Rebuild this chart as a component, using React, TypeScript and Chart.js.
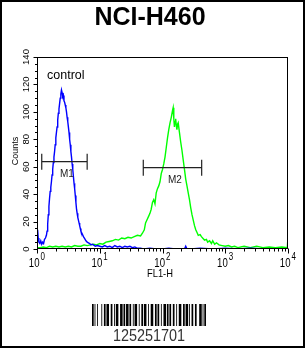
import { useEffect, useRef } from 'react';
import { Chart, registerables } from 'chart.js';

Chart.register(...registerables);

const chartTitle = 'NCI-H460';
const xTitle = 'FL1-H';
const yTitle = 'Counts';
const controlLabel = 'control';

const yTickValues = [0, 20, 40, 60, 80, 100, 120, 140];
const yTickLabels = ['0', '20', '40', '60', '80', '100', '120', '140'];
const xDecadeValues = [1, 10, 100, 1000, 10000];
const xExponentLabels = ['0', '1', '2', '3', '4'];

// [log10(FL1-H), count]
const controlHistogram: [number, number][] = [
  [0, 13], [0.01, 14], [0.02, 8], [0.03, 5], [0.045, 4], [0.06, 6], [0.075, 3.5], [0.09, 5],
  [0.105, 4], [0.12, 7], [0.135, 8], [0.15, 10], [0.16, 13], [0.17, 18], [0.18, 25], [0.19, 31],
  [0.2, 37], [0.21, 42], [0.22, 45], [0.23, 49], [0.24, 54], [0.25, 58], [0.26, 63], [0.27, 67],
  [0.28, 71], [0.29, 76], [0.3, 81], [0.31, 85], [0.32, 89], [0.33, 94], [0.34, 99], [0.35, 102],
  [0.36, 106], [0.37, 110], [0.38, 113], [0.39, 116], [0.4, 114], [0.41, 111], [0.42, 112],
  [0.43, 108], [0.44, 107], [0.45, 105], [0.46, 103], [0.47, 100], [0.48, 96], [0.49, 93],
  [0.5, 89], [0.51, 85], [0.52, 80], [0.53, 76], [0.54, 71], [0.55, 67], [0.56, 62], [0.57, 58],
  [0.58, 53], [0.59, 48], [0.6, 44], [0.61, 39], [0.62, 34], [0.63, 29], [0.64, 26], [0.65, 23],
  [0.66, 21], [0.67, 19], [0.68, 17], [0.69, 15], [0.7, 13], [0.72, 11], [0.74, 9], [0.76, 7.5],
  [0.78, 6], [0.8, 5], [0.82, 4.5], [0.84, 4], [0.86, 3], [0.88, 3.5], [0.9, 3], [0.93, 2],
  [0.96, 2.5], [1.0, 2], [1.04, 1.5], [1.08, 2.5], [1.12, 1.5], [1.16, 2], [1.2, 1], [1.24, 2.5],
  [1.28, 1.5], [1.32, 2], [1.36, 1], [1.4, 2], [1.44, 1.5], [1.48, 2], [1.52, 1], [1.56, 1.5],
  [1.6, 0.5], [1.65, 0.5], [1.7, 0], [1.8, 0.5], [1.9, 0], [2.0, 0], [2.1, 0.5], [2.2, 0],
  [2.3, 0], [2.35, 0], [2.37, 2], [2.39, 0], [2.45, 0], [2.6, 0.5], [2.8, 0], [3.0, 0.5],
  [3.2, 0], [3.4, 0.5], [3.6, 0], [3.8, 0], [4.0, 0],
];

const sampleHistogram: [number, number][] = [
  [0, 1], [0.05, 1], [0.1, 1.5], [0.15, 1], [0.2, 2], [0.25, 1.5], [0.3, 2], [0.35, 1.5],
  [0.4, 2], [0.45, 1.5], [0.5, 2], [0.55, 1.5], [0.6, 2.5], [0.65, 2], [0.7, 2], [0.75, 3],
  [0.8, 2.5], [0.85, 3], [0.9, 3.5], [0.95, 3], [1.0, 4], [1.05, 3.5], [1.1, 5], [1.15, 5.5],
  [1.2, 6], [1.25, 7], [1.3, 6.5], [1.35, 8], [1.4, 7.5], [1.45, 8.5], [1.5, 8], [1.55, 9],
  [1.6, 10], [1.65, 9.5], [1.68, 11.5], [1.71, 14], [1.73, 19], [1.75, 21], [1.78, 24],
  [1.8, 26], [1.82, 29], [1.84, 34], [1.86, 36], [1.88, 33], [1.9, 41], [1.92, 44], [1.94, 46],
  [1.96, 49], [1.98, 55], [2.0, 58], [2.02, 62], [2.04, 67], [2.06, 74], [2.08, 81], [2.1, 87],
  [2.12, 92], [2.14, 96], [2.16, 101], [2.17, 103], [2.18, 95], [2.19, 89], [2.2, 93],
  [2.21, 95], [2.22, 90], [2.23, 87], [2.24, 91], [2.25, 92], [2.27, 85], [2.29, 78],
  [2.31, 72], [2.33, 65], [2.35, 58], [2.37, 51], [2.39, 46], [2.41, 41], [2.43, 36],
  [2.45, 30], [2.47, 25], [2.49, 21], [2.51, 17], [2.53, 14], [2.55, 12], [2.57, 10],
  [2.6, 10.5], [2.62, 9], [2.65, 7.5], [2.67, 6.5], [2.7, 7], [2.72, 5], [2.75, 6], [2.78, 4],
  [2.8, 6], [2.83, 3.5], [2.86, 4.5], [2.9, 3], [2.95, 2.5], [3.0, 2], [3.05, 2.5], [3.1, 1.5],
  [3.15, 2], [3.2, 1], [3.3, 2], [3.4, 1], [3.5, 2], [3.6, 1], [3.7, 1.5], [3.8, 1],
  [3.9, 1.5], [3.99, 1], [4.0, 10],
];

const markerNames = ['M1', 'M2'];
const markerStart = [1.19, 49.4];
const markerEnd = [6.3, 421];
const markerLevel = [63.7, 59.3];

const barcodeText = '125251701';
const barcodeModules = [
  2, 1, 1, 2, 1, 4, 1, 2, 2, 1, 3, 2, 2, 2, 1, 1, 3, 2, 3, 1, 2, 1, 3, 1, 2, 2, 1, 1, 3, 2,
  1, 2, 2, 1, 3, 2, 1, 2, 3, 2, 2, 1, 2, 2, 1, 2, 3, 1, 2, 1, 2, 2, 2, 2, 1, 2, 3, 2, 2, 1,
  3, 1, 1, 2, 2, 2, 2, 3, 3, 1, 1, 1, 2,
];

const toPoints = (h: [number, number][]) => h.map(([d, c]) => ({ x: Math.pow(10, d), y: c }));

const FONT = '"Liberation Sans", Arial, sans-serif';

const decorPlugin = {
  id: 'decor',
  afterDraw(chart: any) {
    const ctx: CanvasRenderingContext2D = chart.ctx;
    const xs = chart.scales.x;
    const ys = chart.scales.y;
    const a = chart.chartArea;
    ctx.save();
    ctx.strokeStyle = '#000';
    ctx.fillStyle = '#000';

    // outer frame
    ctx.lineWidth = 2;
    ctx.strokeRect(1, 1, 303, 346);

    // title
    ctx.font = `bold 25px ${FONT}`;
    ctx.textAlign = 'center';
    ctx.textBaseline = 'alphabetic';
    ctx.fillText(chartTitle, 150, 25);

    // plot box
    ctx.lineWidth = 1;
    const L = Math.round(a.left) + 0.5;
    const R = Math.round(a.right) - 0.5;
    const T = Math.round(a.top) + 0.5;
    const B = Math.round(a.bottom) - 0.5;
    ctx.strokeRect(L, T, R - L, B - T);

    // y ticks
    for (let v = 0; v <= 140; v += 5) {
      const py = Math.round(ys.getPixelForValue(v)) + 0.5;
      const len = v % 20 === 0 ? 4 : 2.5;
      ctx.beginPath();
      ctx.moveTo(L - len, py);
      ctx.lineTo(L, py);
      ctx.stroke();
    }
    ctx.font = `9.5px ${FONT}`;
    ctx.textAlign = 'center';
    ctx.textBaseline = 'middle';
    yTickValues.forEach((v, i) => {
      const py = ys.getPixelForValue(v);
      ctx.save();
      ctx.translate(26, py);
      ctx.rotate(-Math.PI / 2);
      ctx.fillText(yTickLabels[i], 0, 0);
      ctx.restore();
    });
    ctx.save();
    ctx.font = `9px ${FONT}`;
    ctx.translate(15.5, 151);
    ctx.rotate(-Math.PI / 2);
    ctx.fillText(yTitle, 0, 0);
    ctx.restore();

    // x ticks
    xDecadeValues.forEach((dv) => {
      for (let m = 1; m <= 9; m++) {
        const val = dv * m;
        if (val > 10000) break;
        const px = Math.round(xs.getPixelForValue(val)) + 0.5;
        const len = m === 1 ? 5 : 3;
        ctx.beginPath();
        ctx.moveTo(px, B);
        ctx.lineTo(px, B + len);
        ctx.stroke();
      }
    });
    xDecadeValues.forEach((dv, i) => {
      const px = xs.getPixelForValue(dv);
      ctx.save();
      ctx.translate(px + 2.5, 267);
      ctx.scale(0.8, 1);
      ctx.font = `12px ${FONT}`;
      ctx.textAlign = 'right';
      ctx.textBaseline = 'alphabetic';
      ctx.fillText('10', 0, 0);
      ctx.restore();
      ctx.save();
      ctx.translate(px + 3.5, 260);
      ctx.scale(0.8, 1);
      ctx.font = `10px ${FONT}`;
      ctx.textAlign = 'left';
      ctx.textBaseline = 'alphabetic';
      ctx.fillText(xExponentLabels[i], 0, 0);
      ctx.restore();
    });
    ctx.save();
    ctx.translate(160, 277);
    ctx.scale(0.85, 1);
    ctx.font = `11px ${FONT}`;
    ctx.textAlign = 'center';
    ctx.textBaseline = 'alphabetic';
    ctx.fillText(xTitle, 0, 0);
    ctx.restore();

    // control label
    ctx.font = `12.5px ${FONT}`;
    ctx.textAlign = 'left';
    ctx.textBaseline = 'alphabetic';
    ctx.fillText(controlLabel, 47, 79);

    // markers
    ctx.strokeStyle = '#222';
    ctx.fillStyle = '#222';
    ctx.lineWidth = 1.2;
    markerNames.forEach((name, i) => {
      const x1 = xs.getPixelForValue(markerStart[i]);
      const x2 = xs.getPixelForValue(markerEnd[i]);
      const py = ys.getPixelForValue(markerLevel[i]);
      ctx.beginPath();
      ctx.moveTo(x1, py);
      ctx.lineTo(x2, py);
      ctx.moveTo(x1, py - 8);
      ctx.lineTo(x1, py + 8);
      ctx.moveTo(x2, py - 8);
      ctx.lineTo(x2, py + 8);
      ctx.stroke();
      ctx.font = `10px ${FONT}`;
      ctx.textAlign = 'center';
      ctx.textBaseline = 'middle';
      ctx.fillText(name, (x1 + x2) / 2 + 2.5, py + 13);
    });

    // barcode
    const total = barcodeModules.reduce((s, w) => s + w, 0);
    const bx0 = 92;
    const bw = 114;
    const unit = bw / total;
    let cx = bx0;
    ctx.fillStyle = '#000';
    barcodeModules.forEach((w, i) => {
      if (i % 2 === 0) ctx.fillRect(cx, 304, w * unit, 22);
      cx += w * unit;
    });
    ctx.save();
    ctx.fillStyle = '#333';
    ctx.translate(149, 341);
    ctx.scale(0.9, 1);
    ctx.font = `16px ${FONT}`;
    ctx.textAlign = 'center';
    ctx.textBaseline = 'alphabetic';
    ctx.fillText(barcodeText, 0, 0);
    ctx.restore();

    ctx.restore();
  },
};

export default function App() {
  const ref = useRef<HTMLCanvasElement | null>(null);
  useEffect(() => {
    document.body.style.margin = '0';
    const canvas = ref.current!;
    const chart = new Chart(canvas, {
      type: 'line',
      data: {
        datasets: [
          {
            label: 'control',
            data: toPoints(controlHistogram),
            borderColor: '#0000ff',
            borderWidth: 1.4,
            pointRadius: 0,
            tension: 0,
            fill: false,
          },
          {
            label: 'sample',
            data: toPoints(sampleHistogram),
            borderColor: '#00ff00',
            borderWidth: 1.4,
            pointRadius: 0,
            tension: 0,
            fill: false,
          },
        ],
      },
      options: {
        animation: false,
        responsive: false,
        devicePixelRatio: 1,
        layout: { padding: { left: 37, top: 57, right: 18, bottom: 100 } },
        plugins: { legend: { display: false }, tooltip: { enabled: false }, title: { display: false } },
        events: [],
        scales: {
          x: { type: 'logarithmic', min: 1, max: 10000, display: false },
          y: { type: 'linear', min: 0, max: 140, display: false },
        },
      },
      plugins: [decorPlugin],
    });
    return () => chart.destroy();
  }, []);
  return (
    <div style={{ width: 306, height: 349, background: '#fff' }}>
      <canvas ref={ref} width={306} height={349} style={{ display: 'block' }} />
    </div>
  );
}
